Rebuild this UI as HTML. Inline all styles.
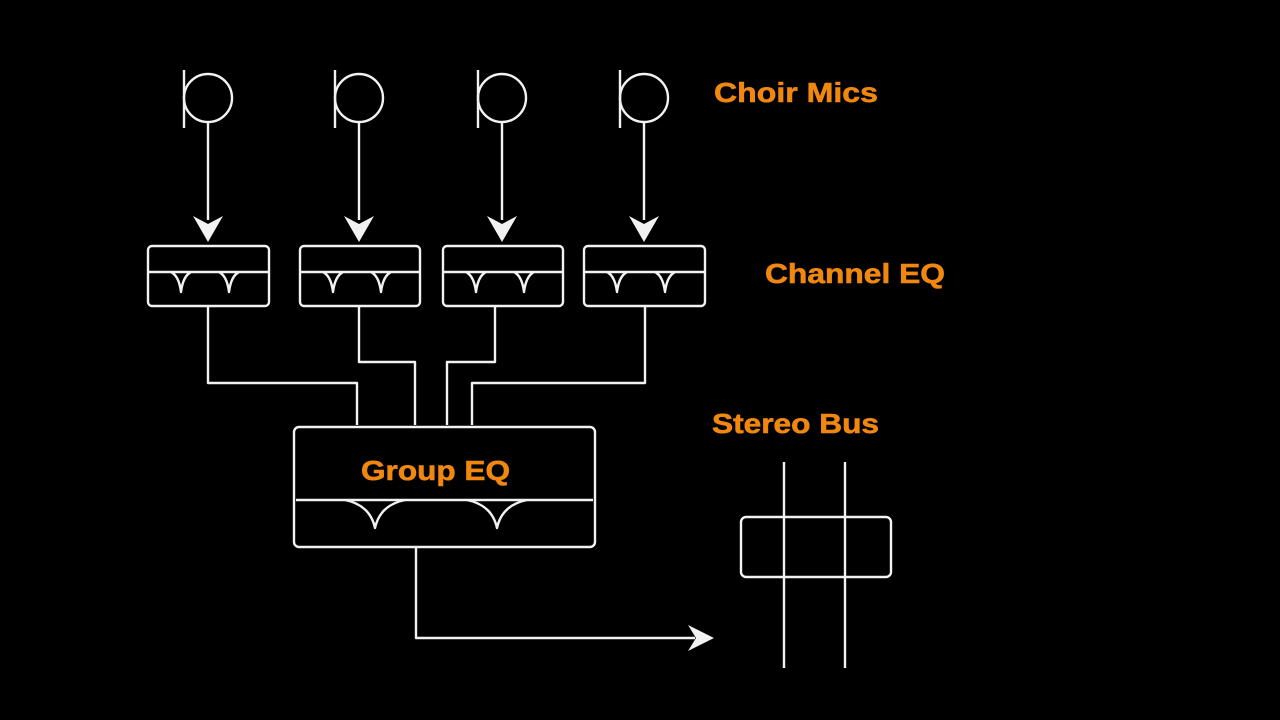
<!DOCTYPE html>
<html><head><style>html,body{margin:0;padding:0;background:#000;}svg{display:block}</style></head>
<body>
<svg width="1280" height="720" viewBox="0 0 1280 720" xmlns="http://www.w3.org/2000/svg">
<rect width="1280" height="720" fill="#000"/>
<g fill="none" stroke="#f2f2f2" stroke-width="2.4" stroke-linejoin="round">
  <circle cx="208" cy="98" r="24"/><line x1="184" y1="70" x2="184" y2="128"/><line x1="208" y1="122" x2="208" y2="220"/>
  <circle cx="359" cy="98" r="24"/><line x1="335" y1="70" x2="335" y2="128"/><line x1="359" y1="122" x2="359" y2="220"/>
  <circle cx="502" cy="98" r="24"/><line x1="478" y1="70" x2="478" y2="128"/><line x1="502" y1="122" x2="502" y2="220"/>
  <circle cx="644" cy="98" r="24"/><line x1="620" y1="70" x2="620" y2="128"/><line x1="644" y1="122" x2="644" y2="220"/>
  <rect x="148" y="246" width="121" height="60" rx="4"/>
  <rect x="300" y="246" width="120" height="60" rx="4"/>
  <rect x="443" y="246" width="120" height="60" rx="4"/>
  <rect x="584" y="246" width="121" height="60" rx="4"/>
  <line x1="149" y1="272" x2="268" y2="272"/>
  <line x1="301" y1="272" x2="419" y2="272"/>
  <line x1="444" y1="272" x2="562" y2="272"/>
  <line x1="585" y1="272" x2="704" y2="272"/>
  <path d="M171 272 Q179 276 181 292 Q183 276 191 272 M219 272 Q227 276 229 292 Q231 276 239 272"/>
  <path d="M323 272 Q331 276 333 292 Q335 276 343 272 M371 272 Q379 276 381 292 Q383 276 391 272"/>
  <path d="M466 272 Q474 276 476 292 Q478 276 486 272 M514 272 Q522 276 524 292 Q526 276 534 272"/>
  <path d="M607 272 Q615 276 617 292 Q619 276 627 272 M655 272 Q663 276 665 292 Q667 276 675 272"/>
  <path d="M208 306 V383 H357 V425"/>
  <path d="M359 306 V362 H415 V425"/>
  <path d="M495 306 V362 H447 V425"/>
  <path d="M645 306 V383 H472 V425"/>
  <rect x="294" y="427" width="301" height="120" rx="5"/>
  <line x1="296" y1="500" x2="593" y2="500"/>
  <path d="M345 500 Q370 505 375 528 Q380 505 405 500 M467 500 Q492 505 497 528 Q502 505 527 500"/>
  <path d="M416 547 V638 H695"/>
  <rect x="741" y="517" width="150" height="60" rx="5"/>
  <line x1="784" y1="462" x2="784" y2="668"/>
  <line x1="845" y1="462" x2="845" y2="668"/>
</g>
<g fill="#f2f2f2">
  <path d="M193 216 L208 242 L223 216 L208 224 Z"/>
  <path d="M344 216 L359 242 L374 216 L359 224 Z"/>
  <path d="M487 216 L502 242 L517 216 L502 224 Z"/>
  <path d="M629 216 L644 242 L659 216 L644 224 Z"/>
  <path d="M688 625 L714 638 L688 651 L696 638 Z"/>
</g>
<g fill="#f0870e" stroke="#f0870e" stroke-width="0.6" font-family="Liberation Sans, sans-serif" font-weight="bold" font-size="28">
  <text x="714" y="102" textLength="164" lengthAdjust="spacingAndGlyphs">Choir Mics</text>
  <text x="765" y="283" textLength="180" lengthAdjust="spacingAndGlyphs">Channel EQ</text>
  <text x="712" y="433" textLength="167" lengthAdjust="spacingAndGlyphs">Stereo Bus</text>
  <text x="361" y="480" textLength="149" lengthAdjust="spacingAndGlyphs">Group EQ</text>
</g>
</svg>
</body></html>
